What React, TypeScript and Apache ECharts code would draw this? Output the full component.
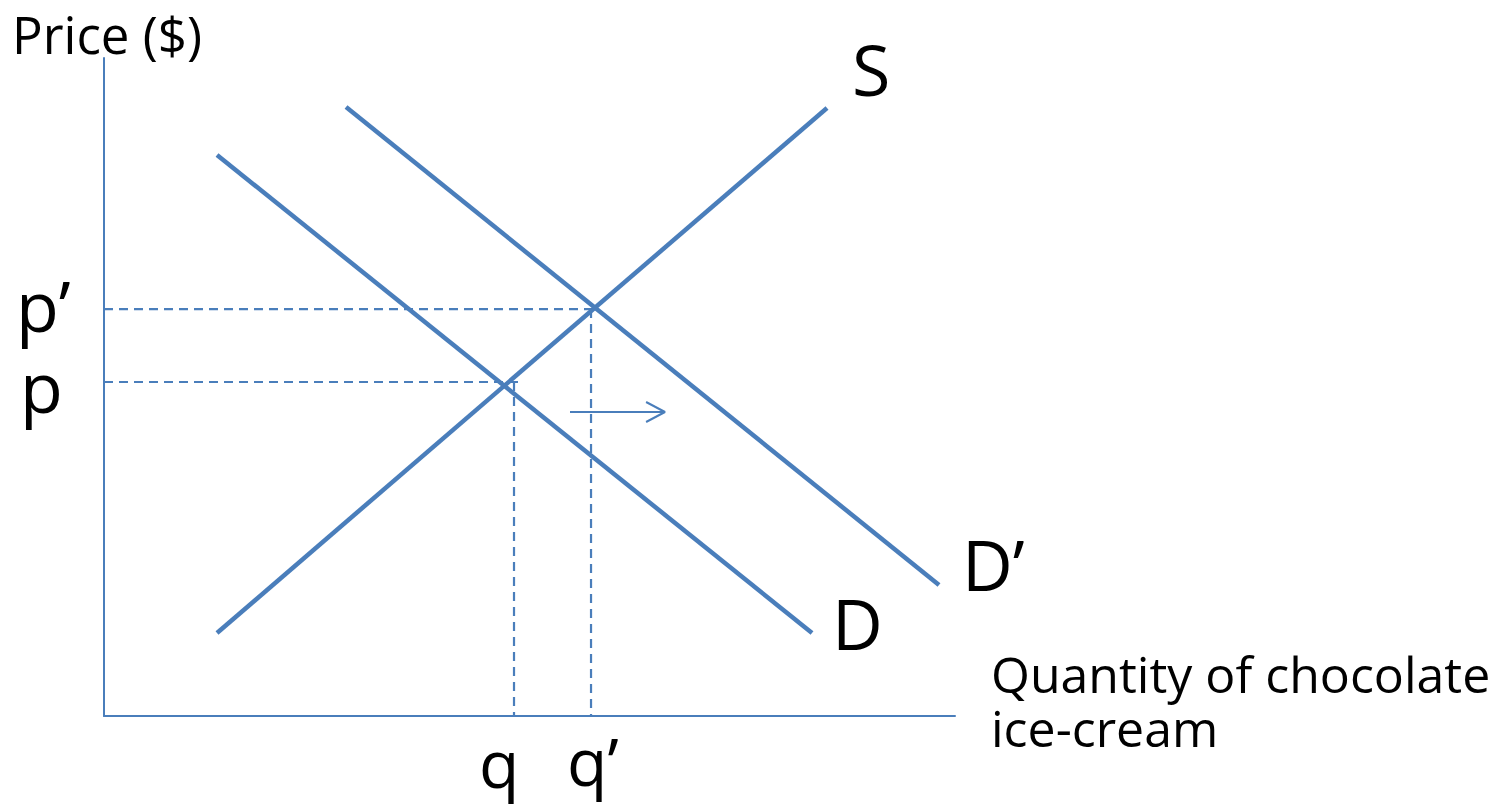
import React, { useEffect, useRef } from "react";
import * as echarts from "echarts";

// Data in chart units (x: quantity 0..100, y: price 0..100)
const supplyS: [number, number][] = [[13.28, 12.61], [84.96, 92.4]];
const demandD: [number, number][] = [[13.28, 85.26], [83.2, 12.61]];
const demandD2: [number, number][] = [[28.44, 92.55], [98.12, 19.91]];
const pPrime = 61.85;
const qPrime = 57.23;
const pEq = 50.76;
const qEq = 48.18;
const priceGuideP2: [number, number][] = [[0, pPrime], [57.46, pPrime]];
const qtyGuideQ2: [number, number][] = [[qPrime, pPrime], [qPrime, 0]];
const priceGuideP: [number, number][] = [[0, pEq], [49.12, pEq]];
const qtyGuideQ: [number, number][] = [[qEq, pEq], [qEq, 0]];
const shiftArrow: [number, number][] = [[54.76, 46.2], [65.92, 46.2]];
const shiftArrowHead: [number, number][] = [[63.7, 47.72], [65.92, 46.2], [63.7, 44.68]];

const BLUE = "#4A7EBB";
const FONT = "Open Sans";

export default function App() {
  const ref = useRef<HTMLDivElement>(null);
  useEffect(() => {
    if (!ref.current) return;
    const chart = echarts.init(ref.current, null, { renderer: "svg" });
    const solid = (data: [number, number][], width: number) => ({
      type: "line",
      data,
      symbol: "none",
      silent: true,
      lineStyle: { color: BLUE, width, cap: "butt" },
    });
    const dashed = (data: [number, number][]) => ({
      type: "line",
      data,
      symbol: "none",
      silent: true,
      lineStyle: { color: BLUE, width: 2.2, type: [9, 6] },
    });
    const txt = (text: string, x: number, baseline: number, size: number) => ({
      type: "text",
      x,
      y: baseline + size * 0.1,
      style: {
        text,
        fontSize: size,
        fontFamily: FONT,
        fill: "#000",
        verticalAlign: "bottom",
        lineHeight: size,
      },
    });
    chart.setOption({
      animation: false,
      backgroundColor: "#fff",
      grid: { left: 104, top: 58, right: 542, bottom: 93 },
      xAxis: {
        type: "value",
        min: 0,
        max: 100,
        axisLine: { show: true, lineStyle: { color: BLUE, width: 2 } },
        axisTick: { show: false },
        axisLabel: { show: false },
        splitLine: { show: false },
      },
      yAxis: {
        type: "value",
        min: 0,
        max: 100,
        axisLine: { show: true, lineStyle: { color: BLUE, width: 2 } },
        axisTick: { show: false },
        axisLabel: { show: false },
        splitLine: { show: false },
      },
      series: [
        dashed(priceGuideP2),
        dashed(qtyGuideQ2),
        dashed(priceGuideP),
        dashed(qtyGuideQ),
        solid(supplyS, 4.5),
        solid(demandD, 4.5),
        solid(demandD2, 4.5),
        solid(shiftArrow, 2),
        solid(shiftArrowHead, 2),
      ],
      graphic: [
        txt("Price ($)", 12, 54, 51),
        txt("S", 852, 97, 70),
        txt("D’", 962, 592, 70),
        txt("D", 832, 651, 70),
        txt("p’", 16, 333, 70),
        txt("p", 20, 414, 70),
        txt("q", 479, 788, 66),
        txt("q’", 567, 786, 66),
        txt("Quantity of chocolate", 991, 694, 50),
        txt("ice-cream", 991, 748, 50),
      ],
    });
    return () => chart.dispose();
  }, []);
  return (
    <div
      ref={ref}
      style={{ position: "fixed", left: 0, top: 0, width: 1497, height: 809 }}
    />
  );
}
